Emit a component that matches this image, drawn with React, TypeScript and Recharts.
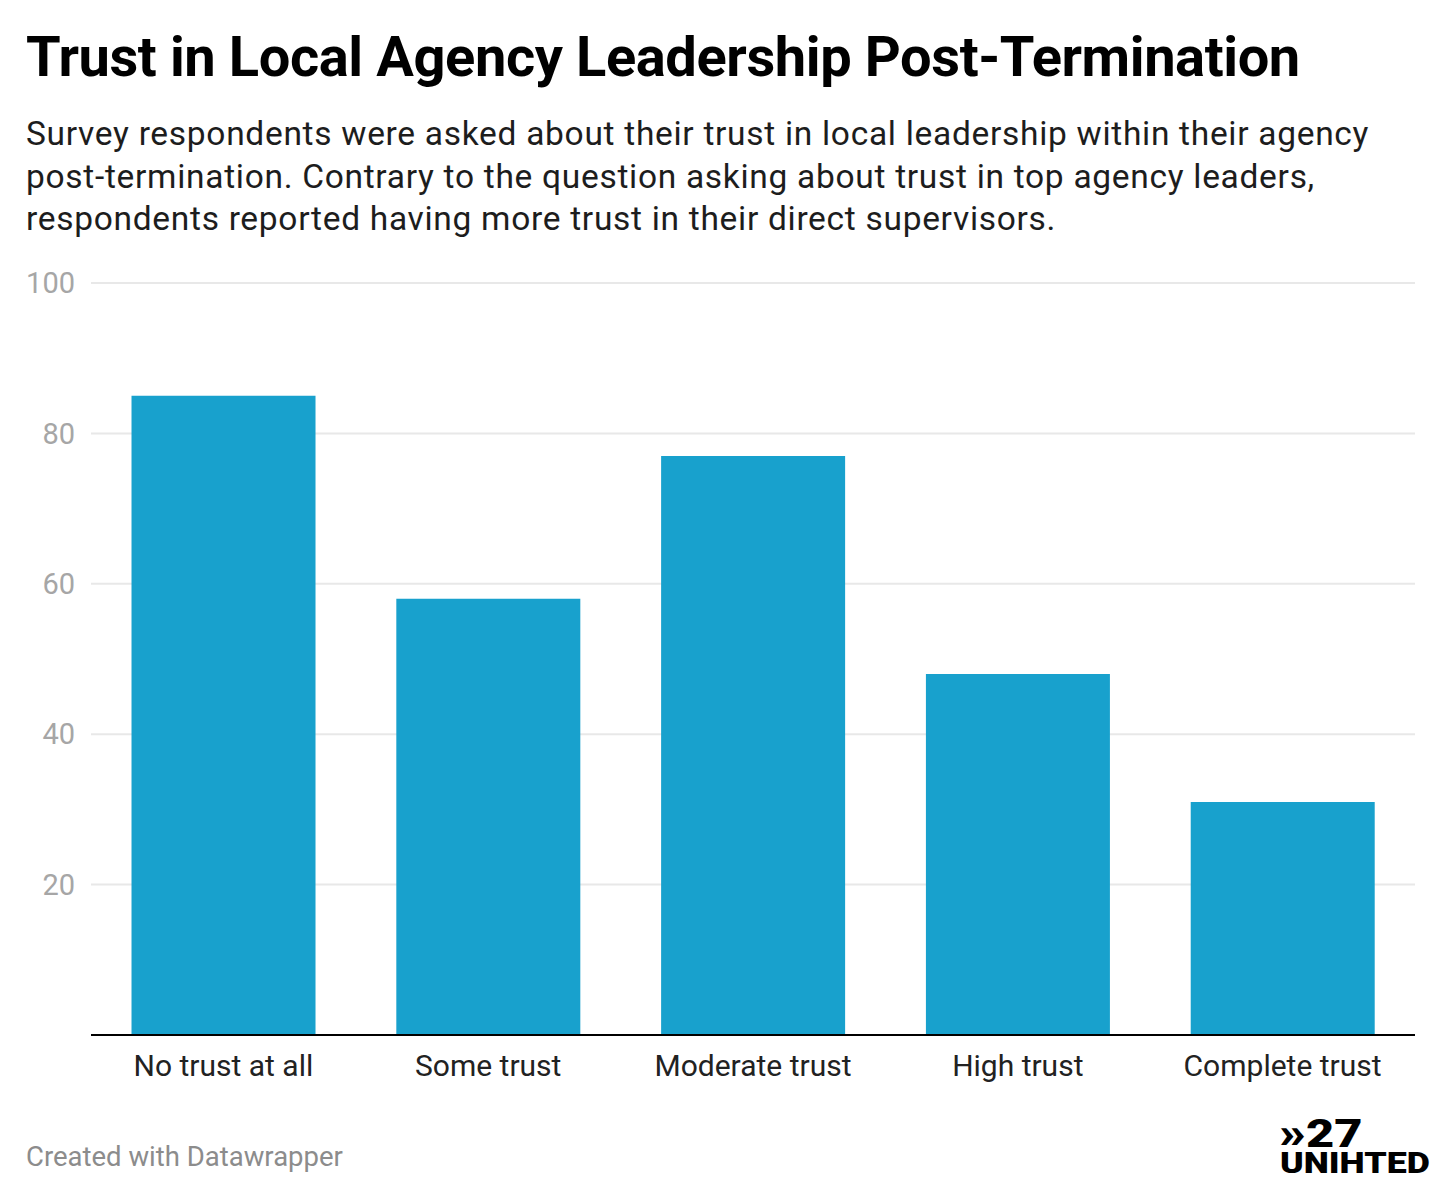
import React from "react";
import { BarChart, Bar, XAxis, YAxis, CartesianGrid } from "recharts";

const categories = ["No trust at all", "Some trust", "Moderate trust", "High trust", "Complete trust"];
const values = [85, 58, 77, 48, 31];
const yTicks = [20, 40, 60, 80, 100];

const data = categories.map((c, i) => ({ name: c, value: values[i] }));

const FONT = "Roboto, 'Noto Sans', sans-serif";

export default function App() {
  return (
    <div style={{ position: "relative", width: 1424, height: 1183, fontFamily: FONT, background: "#fff" }}>
      <div
        style={{
          position: "absolute",
          left: 18,
          top: 19,
          fontSize: 56,
          fontWeight: 700,
          color: "#000",
          lineHeight: "60px",
          whiteSpace: "nowrap",
          letterSpacing: "-0.4px",
        }}
      >
        Trust in Local Agency Leadership Post-Termination
      </div>
      <div
        style={{
          position: "absolute",
          left: 18,
          top: 105,
          width: 1410,
          fontSize: 33.5,
          fontWeight: 400,
          color: "#1d1d1d",
          lineHeight: "42.5px",
          letterSpacing: "0.7px",
          whiteSpace: "nowrap",
        }}
      >
        Survey respondents were asked about their trust in local leadership within their agency
        <br />
        post-termination. Contrary to the question asking about trust in top agency leaders,
        <br />
        respondents reported having more trust in their direct supervisors.
      </div>
      <div style={{ position: "absolute", left: 0, top: 0 }}>
        <BarChart
          width={1424}
          height={1183}
          data={data}
          margin={{ top: 275, right: 17, bottom: 96, left: 0 }}
          barCategoryGap="15.3%"
        >
          <CartesianGrid vertical={false} stroke="#e8e8e8" strokeWidth={2} />
          <YAxis
            type="number"
            domain={[0, 100]}
            ticks={yTicks}
            width={83}
            axisLine={false}
            tickLine={false}
            tickSize={0}
            tickMargin={16}
            tick={{ fill: "#a6a6a6", fontSize: 29, fontFamily: FONT }}
            interval={0}
          />
          <XAxis
            dataKey="name"
            height={60}
            tickLine={false}
            tickSize={0}
            tickMargin={20}
            axisLine={{ stroke: "#000", strokeWidth: 2 }}
            tick={{ fill: "#222", fontSize: 30, fontFamily: FONT }}
            interval={0}
          />
          <Bar dataKey="value" fill="#18a1cd" isAnimationActive={false} />
        </BarChart>
      </div>
      <div
        style={{
          position: "absolute",
          left: 18,
          top: 1135,
          fontSize: 27.5,
          lineHeight: "28px",
          color: "#8c8c8c",
          whiteSpace: "nowrap",
        }}
      >
        Created with Datawrapper
      </div>
      <div
        style={{
          position: "absolute",
          left: 1271,
          top: 1109,
          fontFamily: FONT,
          fontWeight: 900,
          color: "#000",
          fontSize: 39,
          lineHeight: "32px",
          whiteSpace: "nowrap",
          transform: "scaleX(1.25)",
          transformOrigin: "left center",
        }}
      >
        <span style={{ fontSize: 42 }}>»</span>
        <span>27</span>
      </div>
      <div
        style={{
          position: "absolute",
          left: 1272,
          top: 1143,
          fontFamily: FONT,
          fontWeight: 900,
          color: "#000",
          fontSize: 30,
          lineHeight: "24px",
          whiteSpace: "nowrap",
          transform: "scaleX(1.19)",
          transformOrigin: "left center",
        }}
      >
        UNIHTED
      </div>
    </div>
  );
}
